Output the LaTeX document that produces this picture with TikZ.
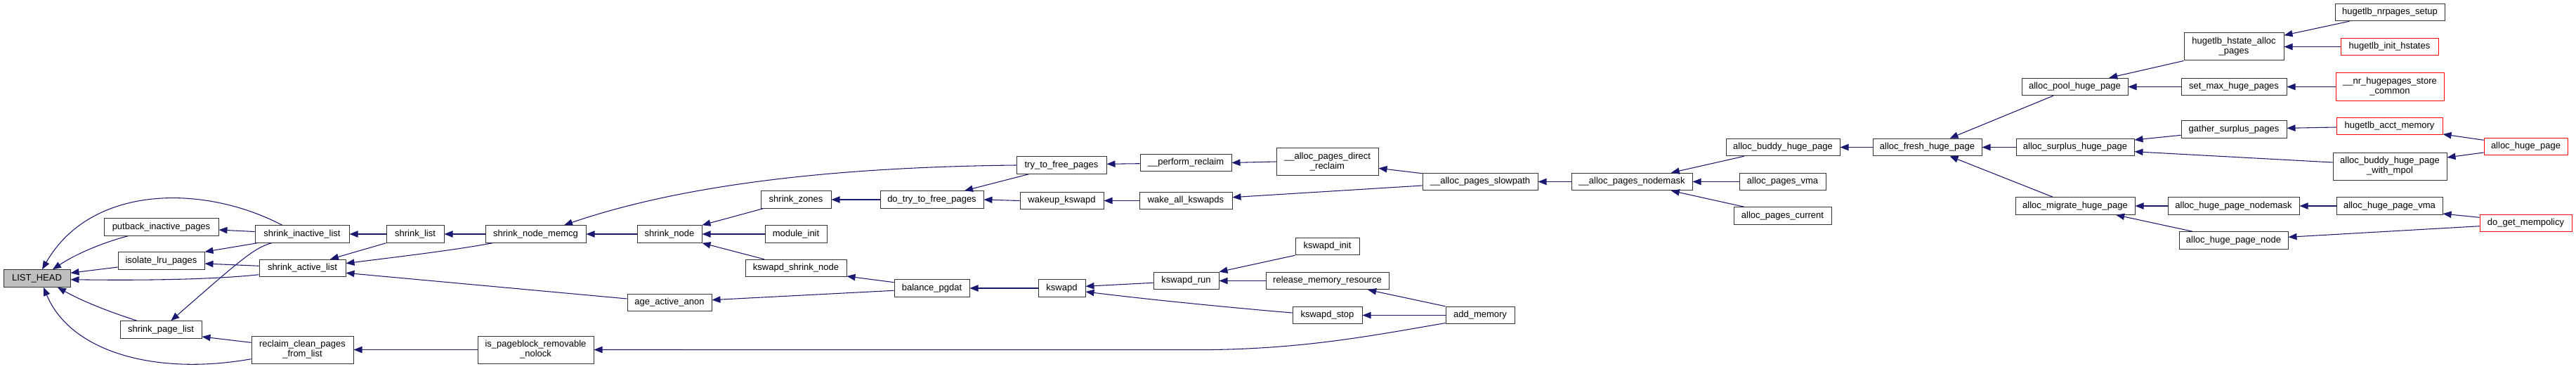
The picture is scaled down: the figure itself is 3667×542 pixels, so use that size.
\documentclass[tikz,border=0pt]{standalone}
\usepackage{fontspec}
\setmainfont{Liberation Sans}
\usetikzlibrary{calc,arrows.meta}
\definecolor{mnblue}{HTML}{191970}
\tikzset{
  fn/.style={draw=black!80, fill=white, line width=0.75pt, inner sep=0pt, align=center,
    font=\fontsize{9.75}{10.5}\selectfont, minimum height=24.5*0.75pt},
  tall/.style={minimum height=39*0.75pt},
  hot/.style={fn, draw=red},
  root/.style={fn, fill=black!25},
  wd/.style={minimum width=#1*0.75pt},
  edge/.style={draw=mnblue, line width=0.8pt, -{Triangle[length=9pt,width=7pt]}},
}
\begin{document}
\begin{tikzpicture}[x=0.75pt,y=-0.75pt]
\useasboundingbox (0,0) rectangle (3667,542);
% nodes
\node[root, wd=95] (LH) at (52.5,396) {LIST\_HEAD};
\node[fn, wd=163] (pip) at (229.5,323) {putback\_inactive\_pages};
\node[fn, wd=134] (sil) at (430,333) {shrink\_inactive\_list};
\node[fn, wd=123] (ilp) at (229.5,371) {isolate\_lru\_pages};
\node[fn, wd=123] (sal) at (430.5,381.5) {shrink\_active\_list};
\node[fn, wd=116] (spl) at (229,469) {shrink\_page\_list};
\node[fn, tall, wd=145] (rc) at (430.5,497.5) {reclaim\_clean\_pages\\\_from\_list};
\node[fn, wd=82] (sl) at (591,333) {shrink\_list};
\node[fn, wd=143] (snm) at (762.5,333) {shrink\_node\_memcg};
\node[fn, wd=120] (aaa) at (953,430.5) {age\_active\_anon};
\node[fn, tall, wd=165] (ipbr) at (762.5,497.5) {is\_pageblock\_removable\\\_nolock};
\node[fn, wd=92] (sn) at (953,333) {shrink\_node};
\node[fn, wd=100] (sz) at (1133,284) {shrink\_zones};
\node[fn, wd=88] (mi) at (1133,333) {module\_init};
\node[fn, wd=144] (ksn) at (1133,381.5) {kswapd\_shrink\_node};
\node[fn, wd=147] (dttfp) at (1326.5,284) {do\_try\_to\_free\_pages};
\node[fn, wd=107] (bp) at (1326.5,410) {balance\_pgdat};
\node[fn, wd=128] (ttfp) at (1511,235) {try\_to\_free\_pages};
\node[fn, wd=119] (wk) at (1511.5,285.5) {wakeup\_kswapd};
\node[fn, wd=67] (ksd) at (1511.5,410) {kswapd};
\node[fn, wd=130] (pr) at (1688,231.5) {\_\_perform\_reclaim};
\node[fn, wd=132] (wak) at (1688,285.5) {wake\_all\_kswapds};
\node[fn, wd=93] (kr) at (1688.5,399.5) {kswapd\_run};
\node[fn, wd=91] (ki) at (1889.5,350.5) {kswapd\_init};
\node[fn, wd=175] (rmr) at (1889.5,399.5) {release\_memory\_resource};
\node[fn, wd=99] (kst) at (1889.5,448.5) {kswapd\_stop};
\node[fn, wd=98] (am) at (2107,448.5) {add\_memory};
\node[fn, tall, wd=145] (apdr) at (1889.5,230) {\_\_alloc\_pages\_direct\\\_reclaim};
\node[fn, wd=164] (aps) at (2107,258.5) {\_\_alloc\_pages\_slowpath};
\node[fn, wd=172] (apn) at (2323,258.5) {\_\_alloc\_pages\_nodemask};
\node[fn, wd=162] (abhp) at (2538,209.5) {alloc\_buddy\_huge\_page};
\node[fn, wd=123] (apvma) at (2537.5,258.5) {alloc\_pages\_vma};
\node[fn, wd=139] (apcur) at (2537.5,307) {alloc\_pages\_current};
\node[fn, wd=155] (afhp) at (2743.5,209.5) {alloc\_fresh\_huge\_page};
\node[fn, wd=151] (apool) at (2953.5,123.5) {alloc\_pool\_huge\_page};
\node[fn, wd=168] (asur) at (2954,209.5) {alloc\_surplus\_huge\_page};
\node[fn, wd=170] (amig) at (2954,293) {alloc\_migrate\_huge\_page};
\node[fn, tall, wd=142] (hhap) at (3180,66.5) {hugetlb\_hstate\_alloc\\\_pages};
\node[fn, wd=150] (smhp) at (3180,123.5) {set\_max\_huge\_pages};
\node[fn, wd=150] (gsp) at (3180,184) {gather\_surplus\_pages};
\node[fn, wd=187] (ahpnm) at (3179.5,293) {alloc\_huge\_page\_nodemask};
\node[fn, wd=155] (ahpnode) at (3179.5,342) {alloc\_huge\_page\_node};
\node[fn, wd=156] (nrps) at (3402,17.5) {hugetlb\_nrpages\_setup};
\node[hot, wd=139] (ihs) at (3401.5,66.5) {hugetlb\_init\_hstates};
\node[hot, tall, wd=154] (nrsc) at (3402,123.5) {\_\_nr\_hugepages\_store\\\_common};
\node[hot, wd=151] (acct) at (3401.5,179.5) {hugetlb\_acct\_memory};
\node[fn, tall, wd=162] (abhpwm) at (3402,236.5) {alloc\_buddy\_huge\_page\\\_with\_mpol};
\node[fn, wd=151] (ahpvma) at (3401.5,293) {alloc\_huge\_page\_vma};
\node[hot, wd=119] (ahp) at (3595.5,208.5) {alloc\_huge\_page};
\node[hot, wd=131] (dgm) at (3595.5,317.5) {do\_get\_mempolicy};
% edges
\draw[edge] ($(pip.south west)+(34.7,0)$) .. controls (150,344) and (110,360) .. ($(LH.north)+(22.5,0)$);
\draw[edge] ($(sil.north)+(-28.3,0)$) .. controls (290,262) and (130,262) .. ($(LH.north)+(7.5,0)$);
\draw[edge] ($(ilp.west)+(0,9)$) -- ($(LH.east)+(0,-7.7)$);
\draw[edge] ($(sal.west)+(0,9.2)$) .. controls (300,398) and (200,399) .. ($(LH.east)+(0,1.7)$);
\draw[edge] ($(spl.north)+(-34,0)$) .. controls (160,445) and (120,430) .. ($(LH.south)+(29.5,0)$);
\draw[edge] ($(rc.west)+(0,13.2)$) .. controls (220,535) and (100,500) .. ($(LH.south)+(9.5,0)$);
\draw[edge] ($(sil.west)+(0,-3.5)$) -- ($(pip.east)+(0,4)$);
\draw[edge] ($(sil.south west)+(3.7,0)$) -- (ilp.north east);
\draw[edge] ($(sal.west)+(0,-3.2)$) -- ($(ilp.east)+(0,4)$);
\draw[edge] ($(sil.south)+(-43.3,0)$) .. controls (362,352) and (340,372) .. ($(spl.north)+(14.3,0)$);
\draw[edge] ($(rc.west)+(0,-10.2)$) -- ($(spl.east)+(0,10)$);
\draw[edge] (sl.west) -- (sil.east);
\draw[edge] (sl.south west) -- ($(sal.north)+(39.5,0)$);
\draw[edge] ($(snm.south west)+(10.7,0)$) .. controls (640,357) and (560,366) .. ($(sal.east)+(0,-6.8)$);
\draw[edge] ($(aaa.west)+(0,-5.5)$) -- ($(sal.east)+(0,6.8)$);
\draw[edge] (snm.west) -- (sl.east);
\draw[edge] (sn.west) -- (snm.east);
\draw[edge] (ttfp.west) .. controls (1150,238) and (950,270) .. ($(snm.north)+(40.5,0)$);
\draw[edge] ($(sz.south west)+(3.7,0)$) -- (sn.north east);
\draw[edge] (mi.west) -- (sn.east);
\draw[edge] ($(ksn.north west)+(27.3,0)$) -- (sn.south east);
\draw[edge] (dttfp.west) -- (sz.east);
\draw[edge] ($(ttfp.south west)+(18,0)$) -- ($(dttfp.north)+(46.5,0)$);
\draw[edge] (wk.west) -- (dttfp.east);
\draw[edge] ($(pr.west)+(0,1.2)$) -- ($(ttfp.east)+(0,-1.7)$);
\draw[edge] (apdr.west) -- (pr.east);
\draw[edge] (wak.west) -- (wk.east);
\draw[edge] ($(aps.west)+(0,5.5)$) -- ($(wak.east)+(0,-4.8)$);
\draw[edge] ($(aps.north west)+(0,1)$) -- ($(apdr.east)+(0,9.3)$);
\draw[edge] (apn.west) -- (aps.east);
\draw[edge] ($(abhp.south west)+(26.3,0)$) -- ($(apn.north east)+(-30.7,0)$);
\draw[edge] (apvma.west) -- (apn.east);
\draw[edge] ($(apcur.north west)+(15.3,0)$) -- ($(apn.south east)+(-30.7,0)$);
\draw[edge] (afhp.west) -- (abhp.east);
\draw[edge] ($(apool.south west)+(45.3,0)$) -- ($(afhp.north east)+(-46,0)$);
\draw[edge] (asur.west) -- (afhp.east);
\draw[edge] ($(amig.north west)+(53.7,0)$) -- ($(afhp.south east)+(-46,0)$);
\draw[edge] (hhap.south west) -- ($(apool.north east)+(-27.3,0)$);
\draw[edge] (smhp.west) -- (apool.east);
\draw[edge] ($(gsp.west)+(0,8.3)$) -- ($(asur.north east)+(0,2.3)$);
\draw[edge] ($(abhpwm.west)+(0,-5.5)$) -- ($(asur.east)+(0,6.2)$);
\draw[edge] (ahpnm.west) -- (amig.east);
\draw[edge] ($(ahpnode.north west)+(19.7,0)$) -- ($(amig.south east)+(-27.3,0)$);
\draw[edge] ($(nrps.south west)+(21,0)$) -- ($(hhap.north east)+(0,3.7)$);
\draw[edge] (ihs.west) -- (hhap.east);
\draw[edge] (nrsc.west) -- (smhp.east);
\draw[edge] ($(acct.west)+(0,1.5)$) -- ($(gsp.east)+(0,-1.7)$);
\draw[edge] ($(ahp.west)+(0,-9.2)$) -- ($(acct.south east)+(0,-1.3)$);
\draw[edge] ($(ahp.west)+(0,8.5)$) -- ($(abhpwm.east)+(0,-12.5)$);
\draw[edge] (ahpvma.west) -- (ahpnm.east);
\draw[edge] ($(dgm.west)+(0,-8.2)$) -- ($(ahpvma.south east)+(0,-1.7)$);
\draw[edge] ($(dgm.west)+(0,4.2)$) -- ($(ahpnode.east)+(0,-4.7)$);
\draw[edge] ($(bp.west)+(0,-8.3)$) -- ($(ksn.south east)+(0,-1.3)$);
\draw[edge] ($(bp.west)+(0,3.3)$) -- ($(aaa.east)+(0,-3.8)$);
\draw[edge] (ksd.west) -- (bp.east);
\draw[edge] ($(kr.west)+(0,2.8)$) -- ($(ksd.east)+(0,-2.7)$);
\draw[edge] ($(kst.west)+(0,-3.5)$) .. controls (1790,441) and (1650,428) .. ($(ksd.east)+(0,5)$);
\draw[edge] (ki.south west) -- (kr.north east);
\draw[edge] (rmr.west) -- (kr.east);
\draw[edge] (am.north west) -- ($(rmr.south east)+(-30.3,0)$);
\draw[edge] (am.west) -- (kst.east);
\draw[edge] ($(am.south west)+(0,-1.7)$) .. controls (1950,478) and (1850,497.7) .. (1700,497.7) -- (ipbr.east);
\draw[edge] (ipbr.west) -- (rc.east);
\end{tikzpicture}
\end{document}
